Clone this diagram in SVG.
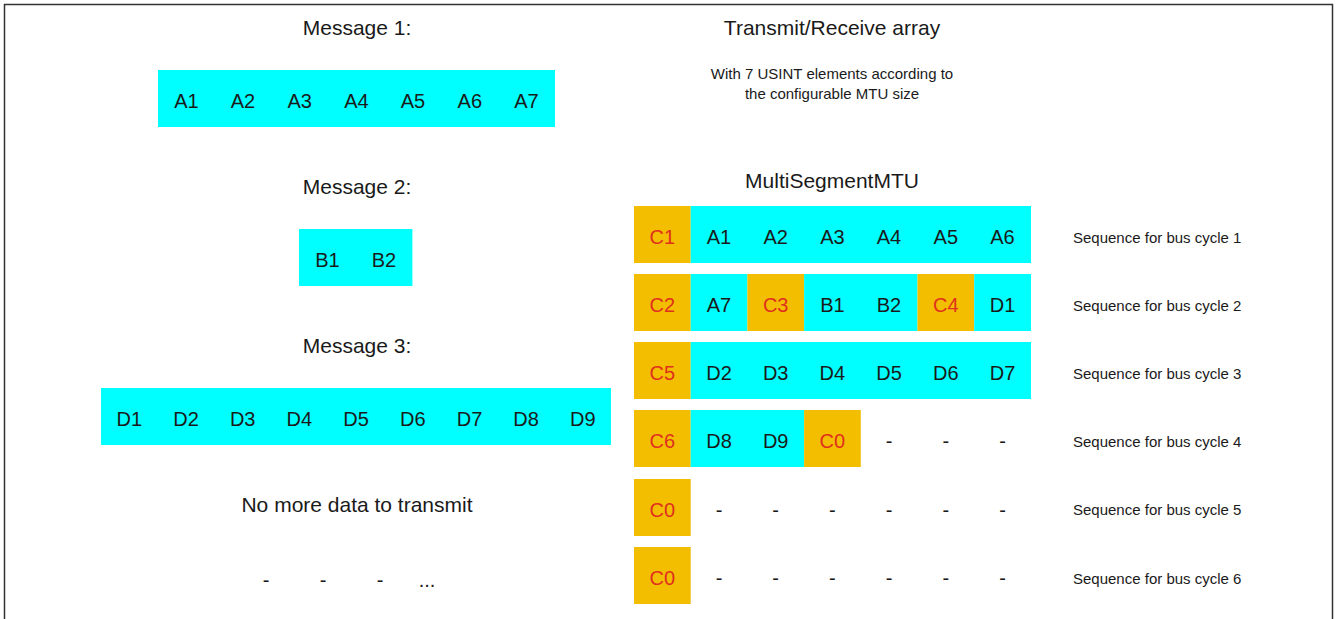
<svg xmlns="http://www.w3.org/2000/svg" width="1336" height="619" viewBox="0 0 1336 619">
<style>
text{font-family:"Liberation Sans",Arial,sans-serif;fill:#1a1a1a;text-anchor:middle}
.t{font-size:21px}
.c{font-size:20px}
.r{fill:#e0301e}
.s{font-size:15px;text-anchor:start}
.n{font-size:15px}
.cy{fill:#00ffff}
.or{fill:#f3bd00}
</style>
<rect x="4.5" y="4.5" width="1328" height="630" fill="#fff" stroke="#333" stroke-width="1.5"/>
<g id="titles">
<text class="t" x="357" y="34.5">Message 1:</text>
<text class="t" x="832" y="34.5">Transmit/Receive array</text>
<text class="n" x="832" y="79">With 7 USINT elements according to</text>
<text class="n" x="832" y="99">the configurable MTU size</text>
<text class="t" x="832" y="187.5">MultiSegmentMTU</text>
<text class="t" x="357" y="193.5">Message 2:</text>
<text class="t" x="357" y="352.5">Message 3:</text>
<text class="t" x="357" y="511.5">No more data to transmit</text>
<text class="c" x="266" y="587">-</text>
<text class="c" x="323" y="587">-</text>
<text class="c" x="380" y="587">-</text>
<text class="c" x="427" y="587">...</text>
</g>
<g id="message1">
<rect class="cy" x="158" y="70" width="397" height="57"/>
<text class="c" x="186.4" y="108">A1</text><text class="c" x="243" y="108">A2</text><text class="c" x="299.7" y="108">A3</text><text class="c" x="356.4" y="108">A4</text><text class="c" x="413" y="108">A5</text><text class="c" x="469.8" y="108">A6</text><text class="c" x="526.5" y="108">A7</text>
</g>
<g id="message2">
<rect class="cy" x="299" y="229" width="113.4" height="57"/>
<text class="c" x="327.4" y="267">B1</text><text class="c" x="384" y="267">B2</text>
</g>
<g id="message3">
<rect class="cy" x="101" y="388" width="510" height="57"/>
<text class="c" x="129.4" y="426">D1</text><text class="c" x="186" y="426">D2</text><text class="c" x="242.7" y="426">D3</text><text class="c" x="299.4" y="426">D4</text><text class="c" x="356" y="426">D5</text><text class="c" x="412.8" y="426">D6</text><text class="c" x="469.5" y="426">D7</text><text class="c" x="526" y="426">D8</text><text class="c" x="582.9" y="426">D9</text>
</g>
<g id="row1">
<rect class="or" x="634" y="206" width="56.7" height="57"/>
<rect class="cy" x="690.7" y="206" width="340.3" height="57"/>
<text class="c r" x="662.4" y="244">C1</text><text class="c" x="719" y="244">A1</text><text class="c" x="775.7" y="244">A2</text><text class="c" x="832.4" y="244">A3</text><text class="c" x="889" y="244">A4</text><text class="c" x="945.8" y="244">A5</text><text class="c" x="1002.5" y="244">A6</text>
<text class="s" x="1073" y="242.5">Sequence for bus cycle 1</text>
</g>
<g id="row2">
<rect class="or" x="634" y="274" width="56.7" height="57"/>
<rect class="cy" x="690.7" y="274" width="56.7" height="57"/>
<rect class="or" x="747.4" y="274" width="56.7" height="57"/>
<rect class="cy" x="804.1" y="274" width="113.4" height="57"/>
<rect class="or" x="917.5" y="274" width="56.7" height="57"/>
<rect class="cy" x="974.2" y="274" width="56.8" height="57"/>
<text class="c r" x="662.4" y="312">C2</text><text class="c" x="719" y="312">A7</text><text class="c r" x="775.7" y="312">C3</text><text class="c" x="832.4" y="312">B1</text><text class="c" x="889" y="312">B2</text><text class="c r" x="945.8" y="312">C4</text><text class="c" x="1002.5" y="312">D1</text>
<text class="s" x="1073" y="310.5">Sequence for bus cycle 2</text>
</g>
<g id="row3">
<rect class="or" x="634" y="342" width="56.7" height="57"/>
<rect class="cy" x="690.7" y="342" width="340.3" height="57"/>
<text class="c r" x="662.4" y="380">C5</text><text class="c" x="719" y="380">D2</text><text class="c" x="775.7" y="380">D3</text><text class="c" x="832.4" y="380">D4</text><text class="c" x="889" y="380">D5</text><text class="c" x="945.8" y="380">D6</text><text class="c" x="1002.5" y="380">D7</text>
<text class="s" x="1073" y="378.5">Sequence for bus cycle 3</text>
</g>
<g id="row4">
<rect class="or" x="634" y="410" width="56.7" height="57"/>
<rect class="cy" x="690.7" y="410" width="113.4" height="57"/>
<rect class="or" x="804.1" y="410" width="56.7" height="57"/>
<text class="c r" x="662.4" y="448">C6</text><text class="c" x="719" y="448">D8</text><text class="c" x="775.7" y="448">D9</text><text class="c r" x="832.4" y="448">C0</text><text class="c" x="889" y="448">-</text><text class="c" x="945.8" y="448">-</text><text class="c" x="1002.5" y="448">-</text>
<text class="s" x="1073" y="446.5">Sequence for bus cycle 4</text>
</g>
<g id="row5">
<rect class="or" x="634" y="479" width="56.7" height="57"/>
<text class="c r" x="662.4" y="517">C0</text><text class="c" x="719" y="517">-</text><text class="c" x="775.7" y="517">-</text><text class="c" x="832.4" y="517">-</text><text class="c" x="889" y="517">-</text><text class="c" x="945.8" y="517">-</text><text class="c" x="1002.5" y="517">-</text>
<text class="s" x="1073" y="514.5">Sequence for bus cycle 5</text>
</g>
<g id="row6">
<rect class="or" x="634" y="547" width="56.7" height="57"/>
<text class="c r" x="662.4" y="585">C0</text><text class="c" x="719" y="585">-</text><text class="c" x="775.7" y="585">-</text><text class="c" x="832.4" y="585">-</text><text class="c" x="889" y="585">-</text><text class="c" x="945.8" y="585">-</text><text class="c" x="1002.5" y="585">-</text>
<text class="s" x="1073" y="583.5">Sequence for bus cycle 6</text>
</g>
<g id="connectors"/>
</svg>
